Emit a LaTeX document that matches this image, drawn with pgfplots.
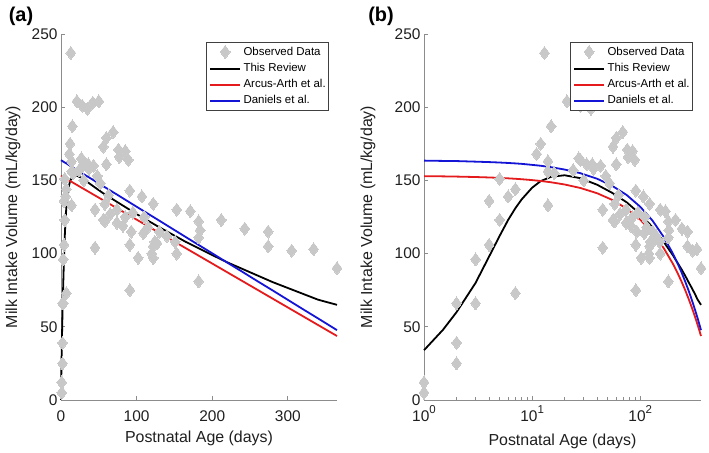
\documentclass[border=0pt]{standalone}
\usepackage{pgfplots}
\usepackage{pgfplotstable}
\pgfplotsset{compat=1.18}
\usepackage{fontspec}
\setmainfont{Liberation Sans}
\definecolor{ptgray}{RGB}{200,200,200}
\definecolor{myred}{RGB}{228,26,28}
\definecolor{myblue}{RGB}{20,20,215}
\definecolor{axgray}{RGB}{140,140,140}

\pgfplotstableread{
x y
1 12
1 5
2 66
2 39
2 25
3 96
3 66
4 136
4 106
5 151
5 123
6 139
7 144
7 73
11 168
12 175
13 237
14 163
14 156
14 133
15 187
16 155
21 204
28 201
35 199
42 203
50 204
24 157
28 164
32 161
37 158
43 160
48 153
30 150
52 148
27 165
36 161
56 173
60 179
69 183
60 161
76 171
85 170
89 164
77 166
45 130
56 123
63 140
58 134
65 127
58 122
74 130
74 121
82 119
91 143
93 115
107 139
109 114
122 134
122 105
124 108
127 107
120 100
102 97
91 106
91 75
45 104
122 97
85 125
95 128
110 125
115 118
130 115
140 112
153 130
151 108
153 100
171 129
182 122
184 116
182 111
182 81
212 123
243 117
274 115
274 105
305 102
334 103
365 90
}\obsdata

\pgfplotstableread{
x bk rd bl
0 0 153.2 163.8
0.3 12 153.1 163.7
0.6 23 153.0 163.6
1 34 152.9 163.5
1.5 48 152.75 163.3
2 60 152.6 163.2
3 80 152.3 162.8
4 98 152.0 162.5
5 112 151.7 162.2
6 123 151.4 161.9
7 131 151.1 161.6
8 137 150.8 161.3
10 145 150.2 160.6
12 149.5 149.6 160.0
15 152.5 148.7 159.0
20 153.5 147.2 157.4
28 151.5 144.8 154.9
40 147 141.2 151.1
55 141.5 136.7 146.3
75 135 130.7 140.0
100 127 123.2 132.0
130 118 114.2 122.5
165 108 103.7 111.3
200 99 93.2 100.2
220 94 87.2 93.8
240 89.5 81.2 87.5
260 85 75.2 81.1
280 80.5 69.2 74.8
300 76.5 63.2 68.4
320 72.5 57.2 62.0
340 68.5 51.2 55.7
365 65 43.7 47.7
}\curves

\pgfplotsset{
  mystyle/.style={
    scale only axis, width=276bp, height=366bp,
    axis x line*=bottom, axis y line*=left,
    axis line style={axgray, line width=0.8bp, -},
    every tick/.style={axgray, line width=0.8bp},
    major tick length=4bp, minor tick length=2.5bp,
    tick align=inside,
    ymin=0, ymax=250, ytick={0,50,100,150,200,250},
    tick label style={font=\fontsize{15.5}{18}\selectfont, text=black!88},
    /pgf/number format/assume math mode=true,
    xticklabel style={anchor=base, yshift=-22bp},
    label style={font=\fontsize{16}{19}\selectfont, text=black!88},
    ylabel={Milk Intake Volume (mL/kg/day)},
    xlabel={Postnatal Age (days)},
    clip=false,
    legend cell align=left,
    legend image code/.code={\draw[##1] (0bp,0bp) -- (30bp,0bp);},
    legend style={at={(0.971,0.979)}, anchor=north east, draw=black!75,
      line width=0.6bp, fill=white, font=\fontsize{11.5}{13}\selectfont,
      inner xsep=3bp, inner ysep=3.5bp, row sep=4.5bp, column sep=2.5bp,
      nodes={inner sep=0bp, text height=9bp, text depth=2.5bp}},
  },
  obsstyle/.style={only marks, mark=diamond*, mark size=6.5bp, color=ptgray,
    mark options={draw=ptgray, fill=ptgray, line width=0pt},
    legend image code/.code={\draw[mark repeat=2,mark phase=2,##1] plot coordinates {(0bp,0bp) (15bp,0bp) (30bp,0bp)};}},
}

\begin{document}
\begin{tikzpicture}[x=1bp,y=1bp]
\path[use as bounding box] (0,0) rectangle (709,453);

\begin{axis}[mystyle, at={(61bp,53bp)}, anchor=south west,
  xmin=0, xmax=365, xtick={0,100,200,300},
  xlabel style={at={(axis description cs:0.5,-0.104)}, anchor=center},
  ylabel style={at={(axis description cs:-0.174,0.5)}, anchor=center},
]
\addplot[obsstyle] table[x=x, y=y] {\obsdata};
\addlegendentry{Observed Data}
\addplot[black, line width=1.8bp, mark=none] table[x=x, y=bk] {\curves};
\addlegendentry{This Review}
\addplot[myred, line width=1.8bp, mark=none] table[x=x, y=rd] {\curves};
\addlegendentry{Arcus-Arth et al.}
\addplot[myblue, line width=1.8bp, mark=none] table[x=x, y=bl] {\curves};
\addlegendentry{Daniels et al.}
\end{axis}

\begin{axis}[mystyle, at={(424bp,53bp)}, anchor=south west, width=277bp,
  xmode=log, xmin=1, xmax=365, xtick={1,10,100},
  xticklabels={10\raisebox{0.55em}{\fontsize{11.5}{12}\selectfont 0},10\raisebox{0.55em}{\fontsize{11.5}{12}\selectfont 1},10\raisebox{0.55em}{\fontsize{11.5}{12}\selectfont 2}},
  xlabel style={at={(axis description cs:0.5,-0.114)}, anchor=center},
  ylabel style={at={(axis description cs:-0.202,0.5)}, anchor=center},
  unbounded coords=discard,
]
\addplot[obsstyle] table[x=x, y=y] {\obsdata};
\addlegendentry{Observed Data}
\addplot[black, line width=1.8bp, mark=none, skip coords between index={0}{3}] table[x=x, y=bk] {\curves};
\addlegendentry{This Review}
\addplot[myred, line width=1.8bp, mark=none, skip coords between index={0}{3}] table[x=x, y=rd] {\curves};
\addlegendentry{Arcus-Arth et al.}
\addplot[myblue, line width=1.8bp, mark=none, skip coords between index={0}{3}] table[x=x, y=bl] {\curves};
\addlegendentry{Daniels et al.}
\end{axis}

\node[font=\fontsize{20}{24}\selectfont\bfseries] at (21,437) {(a)};
\node[font=\fontsize{20}{24}\selectfont\bfseries] at (381,437) {(b)};
\end{tikzpicture}
\end{document}
